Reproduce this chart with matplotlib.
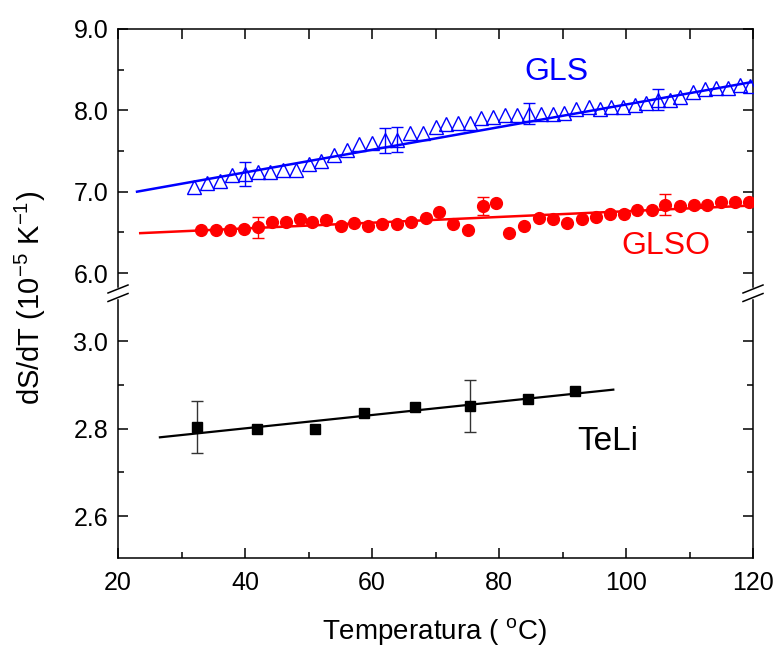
import numpy as np
import matplotlib
matplotlib.use('Agg')
import matplotlib.pyplot as plt
from matplotlib.lines import Line2D
from matplotlib.ticker import MultipleLocator, FormatStrFormatter

plt.rcParams['font.family'] = ['Liberation Sans', 'DejaVu Sans']
plt.rcParams['mathtext.fontset'] = 'custom'
plt.rcParams['mathtext.rm'] = 'Liberation Sans'

# GLS (open triangles)
gls_T = [32, 34, 36, 38, 40, 42, 44, 46, 48, 50, 52, 54, 56, 58, 60, 62, 64, 66, 68, 70,
         71.6, 73.5, 75.4, 77.2, 79.1, 81, 82.8, 84.7, 86.6, 88.5, 90.3, 92.2, 94.1, 95.9,
         97.7, 99.6, 101.4, 103.2, 105, 106.9, 108.5, 110.6, 112.4, 114.2, 116.1, 117.9, 119.5]
gls_y = [7.06, 7.11, 7.13, 7.20, 7.22, 7.24, 7.24, 7.27, 7.27, 7.34, 7.38, 7.45, 7.51, 7.58,
         7.60, 7.63, 7.64, 7.72, 7.72, 7.80,
         7.83, 7.84, 7.84, 7.90, 7.92, 7.94, 7.94, 7.96, 7.96, 7.96, 7.97, 8.02, 8.04, 8.02,
         8.04, 8.04, 8.07, 8.09, 8.13, 8.13, 8.17, 8.23, 8.26, 8.27, 8.27, 8.31, 8.30]
gls_err = np.zeros(len(gls_T))
gls_err[[4, 15, 16, 27, 38]] = [0.15, 0.15, 0.15, 0.13, 0.13]
gls_fit_T = [23, 120]
gls_fit_y = [7.00, 8.35]

# GLSO (filled circles)
glso_T = [33.1, 35.4, 37.6, 39.8, 42, 44.2, 46.4, 48.6, 50.6, 52.8, 55.1, 57.2, 59.4, 61.6,
          63.9, 66.2, 68.5, 70.6, 72.8, 75.1, 77.5, 79.5, 81.6, 84, 86.3, 88.5, 90.7, 93,
          95.2, 97.5, 99.7, 101.8, 104.1, 106.2, 108.5, 110.7, 112.8, 115, 117.2, 119.3]
glso_y = [6.53, 6.53, 6.53, 6.54, 6.56, 6.63, 6.63, 6.67, 6.63, 6.65, 6.58, 6.61, 6.58, 6.60,
          6.60, 6.63, 6.68, 6.75, 6.60, 6.53, 6.82, 6.86, 6.49, 6.58, 6.68, 6.67, 6.62, 6.67,
          6.69, 6.72, 6.72, 6.77, 6.78, 6.84, 6.83, 6.84, 6.84, 6.87, 6.87, 6.87]
glso_err = np.zeros(len(glso_T))
glso_err[[4, 20, 33]] = [0.13, 0.11, 0.13]
glso_fit_T = [23.5, 120]
glso_fit_y = [6.49, 6.83]

# TeLi (filled squares)
teli_T = [32.5, 41.9, 51, 58.8, 66.8, 75.5, 84.5, 92]
teli_y = [2.803, 2.800, 2.800, 2.836, 2.849, 2.851, 2.868, 2.887]
teli_err = np.zeros(len(teli_T))
teli_err[[0, 5]] = [0.06, 0.06]
teli_fit_T = [26.6, 98]
teli_fit_y = [2.780, 2.889]

W, H = 776, 649
fig = plt.figure(figsize=(W / 100, H / 100), dpi=100)

def px(x0, y0, x1, y1):
    return [x0 / W, 1 - y1 / H, (x1 - x0) / W, (y1 - y0) / H]

ax_top = fig.add_axes(px(118, 29, 753, 287))
ax_bot = fig.add_axes(px(118, 300, 753, 558))

def errpoints(ax, T, y, err, color):
    T = np.asarray(T); y = np.asarray(y); m = err > 0
    ax.errorbar(T[m], y[m], yerr=err[m], fmt='none', ecolor=color, elinewidth=1.0,
                capsize=4, capthick=1.0, zorder=2)

# top panel
ax_top.plot(gls_fit_T, gls_fit_y, color='#0000ff', lw=1.8, zorder=3)
errpoints(ax_top, gls_T, gls_y, gls_err, '#0000ff')
ax_top.plot(gls_T, gls_y, ls='none', marker='^', ms=9.5, mfc='none', mec='#0000ff', mew=1.0, zorder=4)
ax_top.plot(glso_fit_T, glso_fit_y, color='#ff0000', lw=1.8, zorder=3)
errpoints(ax_top, glso_T, glso_y, glso_err, '#ff0000')
ax_top.plot(glso_T, glso_y, ls='none', marker='o', ms=8.5, mfc='#ff0000', mec='#ff0000', zorder=4)
ax_top.text(89.1, 8.47, 'GLS', color='#0000ff', fontsize=23, ha='center', va='center')
ax_top.text(106.3, 6.33, 'GLSO', color='#ff0000', fontsize=23, ha='center', va='center')
ax_top.set_ylim(5.828, 9.0)
ax_top.yaxis.set_major_locator(MultipleLocator(1.0))
ax_top.yaxis.set_minor_locator(MultipleLocator(0.5))

# bottom panel
ax_bot.plot(teli_fit_T, teli_fit_y, color='black', lw=1.6, zorder=3)
errpoints(ax_bot, teli_T, teli_y, teli_err, '#333333')
ax_bot.plot(teli_T, teli_y, ls='none', marker='s', ms=7, color='black', zorder=4)
ax_bot.text(97.1, 2.77, 'TeLi', color='black', fontsize=24, ha='center', va='center')
ax_bot.set_ylim(2.504, 3.094)
ax_bot.yaxis.set_major_locator(MultipleLocator(0.2))
ax_bot.yaxis.set_minor_locator(MultipleLocator(0.1))

for ax in (ax_top, ax_bot):
    ax.set_xlim(20, 120)
    ax.xaxis.set_major_locator(MultipleLocator(20))
    ax.xaxis.set_minor_locator(MultipleLocator(10))
    ax.yaxis.set_major_formatter(FormatStrFormatter('%.1f'))
    ax.tick_params(which='both', direction='in', width=1.1, labelsize=18, pad=7)
    ax.tick_params(which='major', length=7)
    ax.tick_params(which='minor', length=4)
    ax.tick_params(axis='y', which='both', left=True, right=True)
    for s in ax.spines.values():
        s.set_linewidth(1.1)

ax_top.spines['bottom'].set_visible(False)
ax_top.tick_params(axis='x', which='both', bottom=False, top=True, labelbottom=False)
ax_top.tick_params(axis='x', which='minor', length=7)
ax_bot.spines['top'].set_visible(False)
ax_bot.tick_params(axis='x', which='both', top=False, bottom=True, pad=9)

# axis break marks
for xb in (118, 753):
    for yb in (289, 297.5):
        fig.add_artist(Line2D([(xb - 10) / W, (xb + 10) / W],
                              [1 - (yb + 4) / H, 1 - (yb - 4) / H],
                              color='black', lw=1.1))

fig.text(435 / W, 1 - 632 / H, 'Temperatura ( $^{\\rm o}$C)', fontsize=20, ha='center', va='center')
fig.text(30 / W, 1 - 298 / H, 'dS/dT (10$^{-5}$ K$^{-1}$)', fontsize=21, rotation=90,
         ha='center', va='center')

fig.savefig('out.png', dpi=100)
